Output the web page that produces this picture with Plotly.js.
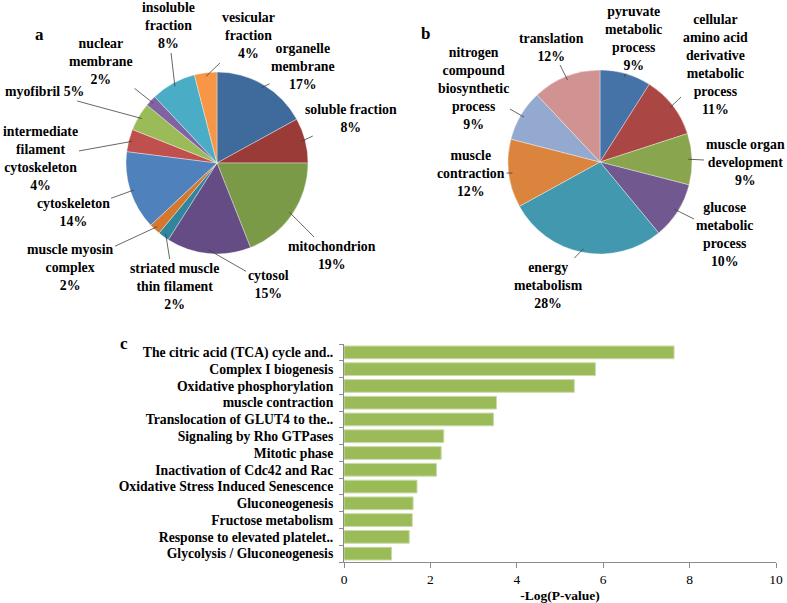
<!DOCTYPE html>
<html>
<head>
<meta charset="utf-8">
<script src="https://cdn.plot.ly/plotly-3.0.1.min.js"></script>
<style>
  html, body { margin: 0; padding: 0; background: #fff; }
  #chart { width: 787px; height: 603px; }
</style>
</head>
<body>
<div id="chart"></div>
<script>
// panel a: cellular component
var ccLabels = ['organelle<br>membrane', 'soluble fraction', 'mitochondrion', 'cytosol',
  'striated muscle<br>thin filament', 'muscle myosin<br>complex', 'cytoskeleton',
  'intermediate<br>filament<br>cytoskeleton', 'myofibril', 'nuclear<br>membrane',
  'insoluble<br>fraction', 'vesicular<br>fraction'];
var ccValues = [17, 8, 19, 15, 2, 2, 14, 4, 5, 2, 8, 4];

// panel b: biological process
var bpLabels = ['pyruvate<br>metabolic<br>process', 'cellular<br>amino acid<br>derivative<br>metabolic<br>process',
  'muscle organ<br>development', 'glucose<br>metabolic<br>process', 'energy<br>metabolism',
  'muscle<br>contraction', 'nitrogen<br>compound<br>biosynthetic<br>process', 'translation'];
var bpValues = [9, 11, 9, 10, 28, 12, 9, 12];

// panel c: pathways
var pathways = ['The citric acid (TCA) cycle and..', 'Complex I biogenesis', 'Oxidative phosphorylation',
  'muscle contraction', 'Translocation of GLUT4 to the..', 'Signaling by Rho GTPases',
  'Mitotic phase', 'Inactivation of Cdc42 and Rac', 'Oxidative Stress Induced Senescence',
  'Gluconeogenesis', 'Fructose metabolism', 'Response to elevated platelet..',
  'Glycolysis / Gluconeogenesis'];
var pathScores = [7.64, 5.82, 5.33, 3.53, 3.46, 2.31, 2.25, 2.14, 1.69, 1.60, 1.58, 1.51, 1.10];

// styling / layout
var W = 787, H = 603;
var serif = "'Liberation Serif', 'Times New Roman', serif";
var ccColors = ['#3F6A9C', '#9A3B38', '#7A9A48', '#654C84', '#31859C', '#D4782F',
  '#4F81BD', '#C0504D', '#9BBB59', '#8064A2', '#4BACC6', '#F79646'];
var bpColors = ['#4572A7', '#AA4643', '#89A54E', '#71588F', '#4198AF', '#DB843D', '#93A9CF', '#D19392'];
var pieA = {cx: 217, cy: 163, r: 91};
var pieB = {cx: 600, cy: 162, r: 92};
var ccJoin = ['<br>', '<br>', '<br>', '<br>', '<br>', '<br>', '<br>', '<br>', ' ', '<br>', '<br>', '<br>'];
var ccTextPos = [[303, 67], [351, 118], [332, 255], [268, 284], [174, 286], [70, 267],
  [73, 212], [40, 158], [44, 92], [101, 62], [168, 26], [248, 36]];
var bpTextPos = [[633, 38], [715, 64], [745, 162], [724, 234], [548, 285], [471, 173], [473, 88], [551, 47]];

function domainOf(p) {
  return {
    x: [(p.cx - p.r) / W, (p.cx + p.r) / W],
    y: [1 - (p.cy + p.r) / H, 1 - (p.cy - p.r) / H]
  };
}

function pieTrace(labels, values, colors, p) {
  return {
    type: 'pie', labels: labels, values: values, sort: false, direction: 'clockwise',
    marker: {colors: colors, line: {color: 'rgba(255,255,255,0.6)', width: 0.6}},
    textinfo: 'none', hoverinfo: 'skip', showlegend: false, domain: domainOf(p)
  };
}

function pieNotes(labels, values, p, pos, join) {
  var total = values.reduce(function (a, b) { return a + b; }, 0);
  var cum = 0, notes = [];
  for (var i = 0; i < values.length; i++) {
    var mid = (cum + values[i] / 2) / total * 2 * Math.PI;
    cum += values[i];
    var tx = p.cx + Math.sin(mid) * p.r * 0.96;
    var ty = p.cy - Math.cos(mid) * p.r * 0.96;
    var pct = Math.round(values[i] / total * 100) + '%';
    notes.push({
      xref: 'paper', yref: 'paper', x: tx / W, y: 1 - ty / H,
      ax: pos[i][0] - tx, ay: pos[i][1] - ty, axref: 'pixel', ayref: 'pixel',
      text: '<b>' + labels[i] + (join ? join[i] : '<br>') + pct + '</b>',
      showarrow: true, arrowhead: 0, arrowwidth: 0.8, arrowcolor: '#404040', standoff: 0,
      font: {family: serif, size: 13.8, color: '#000'}, align: 'center'
    });
  }
  return notes;
}

var barTrace = {
  type: 'bar', orientation: 'h', y: pathways, x: pathScores,
  marker: {color: '#9BBB59', line: {color: '#C9DBA6', width: 1}},
  hoverinfo: 'skip', showlegend: false, xaxis: 'x', yaxis: 'y'
};

var letters = [['a', 33, 23], ['b', 425, 22], ['c', 118, 343]].map(function (l) {
  return {xref: 'paper', yref: 'paper', x: l[1] / W, y: 1 - l[2] / H, showarrow: false,
    text: '<b>' + l[0] + '</b>', font: {family: serif, size: 17, color: '#000'}};
});

var layout = {
  width: W, height: H,
  margin: {l: 0, r: 0, t: 0, b: 0},
  paper_bgcolor: '#fff', plot_bgcolor: '#fff',
  bargap: 0.24,
  xaxis: {
    domain: [344 / W, 776 / W], range: [0, 10], dtick: 2, showgrid: false, zeroline: false,
    showline: true, linecolor: '#8c8c8c', linewidth: 1, ticks: 'outside', ticklen: 5, tickcolor: '#8c8c8c',
    tickfont: {family: serif, size: 13.5, color: '#000'},
    title: {text: '<b>-Log(P-value)</b>', font: {family: serif, size: 13.5, color: '#000'}, standoff: 4}
  },
  yaxis: {
    domain: [1 - 562 / H, 1 - 344 / H], type: 'category', autorange: 'reversed',
    showgrid: false, zeroline: false, showline: true, linecolor: '#8c8c8c', linewidth: 1,
    ticks: 'outside', tickson: 'boundaries', ticklen: 4, tickcolor: '#8c8c8c',
    ticklabelstandoff: 7,
    tickfont: {family: serif, size: 13.7, color: '#000'}
  },
  annotations: pieNotes(ccLabels, ccValues, pieA, ccTextPos, ccJoin)
    .concat(pieNotes(bpLabels, bpValues, pieB, bpTextPos))
    .concat(letters)
};

// bold the category tick labels
layout.yaxis.tickvals = pathways;
layout.yaxis.ticktext = pathways.map(function (s) { return '<b>' + s + '</b>'; });

Plotly.newPlot('chart', [
  pieTrace(ccLabels, ccValues, ccColors, pieA),
  pieTrace(bpLabels, bpValues, bpColors, pieB),
  barTrace
], layout, {staticPlot: true});
</script>
</body>
</html>
